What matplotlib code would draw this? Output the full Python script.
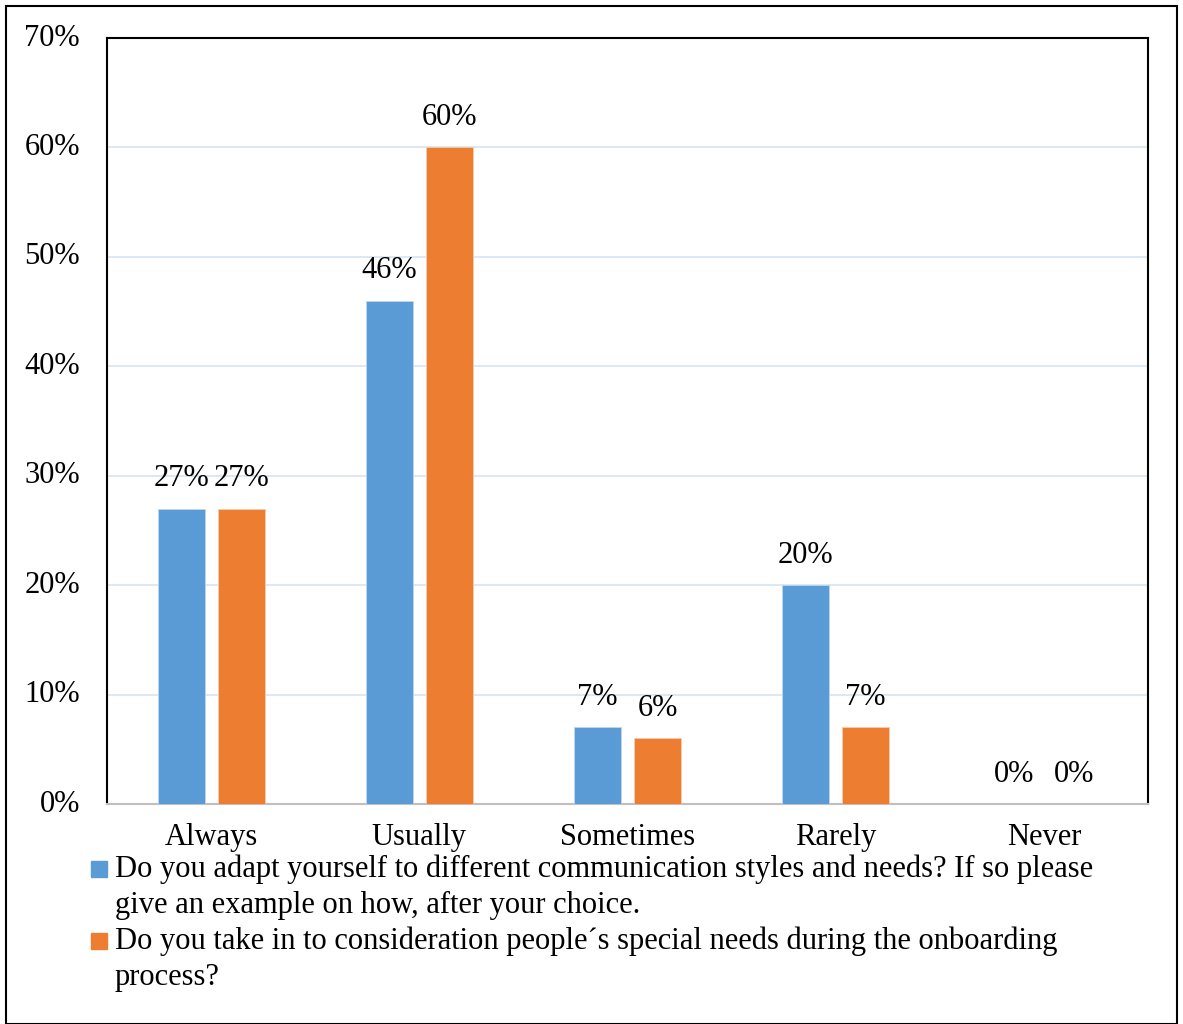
import numpy as np
import matplotlib
matplotlib.use("Agg")
import matplotlib.pyplot as plt
from matplotlib.patches import Rectangle
from matplotlib.ticker import FuncFormatter, MultipleLocator

categories = ["Always", "Usually", "Sometimes", "Rarely", "Never"]
adapt_styles = [27, 46, 7, 20, 0]
special_needs = [27, 60, 6, 7, 0]
series_labels = [
    ["Do you adapt yourself to different communication styles and needs? If so please",
     "give an example on how, after your choice."],
    ["Do you take in to consideration people\u00b4s special needs during the onboarding",
     "process?"],
]

BLUE = "#5B9BD5"
ORANGE = "#ED7D31"
GRID = "#D6E4F2"
FS = 22

plt.rcParams["font.family"] = ["Liberation Serif", "DejaVu Serif"]

W, H = 1183, 1024
fig = plt.figure(figsize=(W / 100, H / 100), dpi=100)

# outer frame around the whole chart
fig.patches.append(Rectangle((6 / W, 0), 1171 / W, 1018 / H, transform=fig.transFigure,
                             fill=False, edgecolor="black", linewidth=1.5))

ax = fig.add_axes([107 / W, 1 - 804 / H, 1041 / W, 766 / H])
x = np.arange(len(categories))
bw = 0.226
off = 0.144
b1 = ax.bar(x - off, adapt_styles, bw, color=BLUE, edgecolor="#BDD7EE", linewidth=0.6, zorder=3)
b2 = ax.bar(x + off, special_needs, bw, color=ORANGE, edgecolor="#F8CBAD", linewidth=0.6, zorder=3)

for bars, vals in ((b1, adapt_styles), (b2, special_needs)):
    for r, v in zip(bars, vals):
        ax.annotate(f"{v}%", (r.get_x() + r.get_width() / 2, v), xytext=(0, 30),
                    textcoords="offset pixels", ha="center", va="center",
                    fontsize=FS, zorder=4)

ax.set_xlim(-0.5, len(categories) - 0.5)
ax.set_ylim(0, 70)
ax.yaxis.set_major_locator(MultipleLocator(10))
ax.yaxis.set_major_formatter(FuncFormatter(lambda v, p: f"{v:.0f}%"))
ax.set_xticks(x)
ax.set_xticklabels(categories)
ax.tick_params(axis="both", length=0, labelsize=FS)
ax.tick_params(axis="x", pad=14)
ax.tick_params(axis="y", pad=19.5)
for lbl in ax.get_yticklabels():
    lbl.set_verticalalignment("center")
ax.grid(axis="y", color=GRID, linewidth=1.2, zorder=0)

for side in ("left", "top", "right"):
    ax.spines[side].set_color("black")
    ax.spines[side].set_linewidth(1.5)
ax.spines["bottom"].set_color("#BFBFBF")
ax.spines["bottom"].set_linewidth(1.5)

# legend drawn by hand so each entry can wrap across two lines
line_y = [[869, 905], [941, 977]]
for color, lines, ys in zip((BLUE, ORANGE), series_labels, line_y):
    fig.patches.append(Rectangle((91 / W, 1 - (ys[0] + 8) / H), 16 / W, 16 / H,
                                 transform=fig.transFigure, color=color))
    for txt, yc in zip(lines, ys):
        fig.text(115 / W, 1 - yc / H, txt, ha="left", va="center", fontsize=FS)

fig.savefig("out.png", dpi=100)
